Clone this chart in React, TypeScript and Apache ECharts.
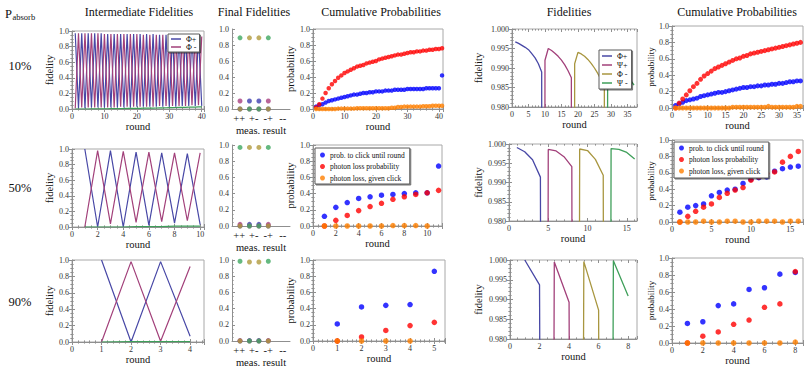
import React, { useEffect, useRef } from "react";
import * as echarts from "echarts";

// ---------------- texts ----------------
const columnTitles = ["Intermediate Fidelities", "Final Fidelities", "Cumulative Probabilities", "Fidelities", "Cumulative Probabilities"];
const rowLabels = ["10%", "50%", "90%"];
const measResults = ["++", "+-", "-+", "--"];
const intermediateLegend = ["Φ+", "Φ -"];
const bellLegend = ["Φ+", "Ψ+", "Φ -", "Ψ -"];
const probLegend = ["prob. to click until round", "photon loss probability", "photon loss, given click"];

// ---------------- intermediate fidelities (round 1..N) ----------------
const inter10PhiPlus = [0.97,0.01,0.97,0.01,0.97,0.02,0.97,0.02,0.97,0.02,0.96,0.02,0.96,0.02,0.96,0.02,0.96,0.02,0.96,0.03,0.96,0.03,0.96,0.03,0.96,0.03,0.95,0.03,0.95,0.03,0.95,0.03,0.95,0.04,0.95,0.04,0.95,0.04,0.95,0.04];
const inter10PhiMinus = [0.01,0.97,0.02,0.97,0.02,0.97,0.02,0.97,0.02,0.96,0.02,0.96,0.02,0.96,0.03,0.96,0.03,0.96,0.03,0.96,0.03,0.95,0.03,0.95,0.03,0.95,0.04,0.95,0.04,0.95,0.04,0.94,0.04,0.94,0.04,0.94,0.05,0.94,0.05,0.93];
const inter10Other = [0,0,0,0,0,0.001,0.001,0.002,0.002,0.003,0.003,0.004,0.004,0.005,0.005,0.006,0.007,0.007,0.008,0.009,0.009,0.010,0.011,0.012,0.012,0.013,0.014,0.015,0.016,0.017,0.018,0.019,0.020,0.021,0.022,0.023,0.024,0.025,0.027,0.028];
const inter50PhiPlus = [1.0,0.0,0.98,0.0,0.96,0.02,0.95,0.05,0.94,0.03];
const inter50PhiMinus = [0.0,0.98,0.04,0.97,0.06,0.96,0.07,0.95,0.08,0.95];
const inter50Other = [0,0,0,0,0.005,0.005,0.005,0.01,0.01,0.01];
const inter90PhiPlus = [1.0,0.0,0.98,0.07];
const inter90PhiMinus = [0.0,0.98,0.01,0.92];
const inter90Other = [0,0.005,0.005,0.005];

// ---------------- final fidelities (per measurement result) ----------------
const final10PhiPlus = [0.0,0.1,0.1,0.0];
const final10PsiPlus = [0.1,0.0,0.0,0.1];
const final10PhiMinus = [0.0,0.89,0.89,0.0];
const final10PsiMinus = [0.89,0.0,0.0,0.89];
const final50PhiPlus = [0.0,0.02,0.02,0.0];
const final50PsiPlus = [0.02,0.0,0.0,0.02];
const final50PhiMinus = [0.0,0.97,0.97,0.0];
const final50PsiMinus = [0.97,0.0,0.0,0.97];
const final90PhiPlus = [0.0,0.005,0.005,0.0];
const final90PsiPlus = [0.005,0.0,0.0,0.005];
const final90PhiMinus = [0.0,0.975,0.975,0.0];
const final90PsiMinus = [0.985,0.0,0.0,0.985];

// ---------------- cumulative probabilities, left (round 1..N) ----------------
const cumL10Click = [0.03,0.05,0.06,0.08,0.10,0.11,0.12,0.13,0.14,0.15,0.16,0.17,0.18,0.18,0.19,0.20,0.20,0.21,0.21,0.22,0.22,0.22,0.23,0.23,0.23,0.24,0.24,0.24,0.24,0.25,0.25,0.25,0.25,0.25,0.25,0.26,0.26,0.26,0.26,0.26,0.42];
const cumL10Loss = [0.02,0.06,0.13,0.20,0.26,0.31,0.35,0.39,0.42,0.45,0.47,0.49,0.51,0.53,0.54,0.55,0.57,0.58,0.59,0.60,0.62,0.63,0.64,0.65,0.66,0.67,0.68,0.68,0.69,0.70,0.71,0.71,0.72,0.72,0.73,0.73,0.74,0.74,0.75,0.75,0.76];
const cumL10Given = [0,0,0,0,0,0,0,0.005,0.005,0.005,0.005,0.005,0.005,0.01,0.01,0.01,0.01,0.01,0.01,0.01,0.01,0.01,0.01,0.01,0.015,0.015,0.025,0.025,0.03,0.03,0.03,0.03,0.03,0.03,0.035,0.035,0.035,0.04,0.04,0.04,0.04];
const cumL50Click = [0.12,0.23,0.29,0.34,0.36,0.38,0.39,0.40,0.41,0.41,0.74];
const cumL50Loss = [0.0,0.07,0.13,0.19,0.24,0.28,0.33,0.36,0.39,0.41,0.44];
const cumL50Given = [0,0,0,0,0,0,0.005,0.005,0.005,0.0];
const cumL90Click = [0.21,0.42,0.44,0.45,0.86];
const cumL90Loss = [0.0,0.05,0.13,0.19,0.23];
const cumL90Given = [0,0,0,0];

// ---------------- fidelities, right (value series with start round) ----------------
const fid10PhiPlus = [0.9967,0.9963,0.9958,0.9953,0.9947,0.9937,0.9926,0.9911,0.9890,0.0]; // rounds 1..10
const fid10PsiPlus = [0.0,0.9920,0.9950,0.9945,0.9938,0.9930,0.9920,0.9908,0.9893,0.9875,0.0]; // rounds 9..19
const fid10PhiMinus = [0.0,0.9911,0.9940,0.9936,0.9930,0.9922,0.9912,0.9900,0.9886,0.9870,0.9851,0.0]; // rounds 18..29
const fid10PsiMinus = [0.0,0.9908,0.9934,0.9925,0.9914,0.9903,0.9892,0.9880,0.9868,0.9856]; // rounds 28..37
const fid10Start = [1, 9, 18, 28];
const fid50PhiPlus = [0.9991,0.9980,0.9959,0.9914,0.0]; // 1..5
const fid50PsiPlus = [0.0,0.9986,0.9982,0.9967,0.9941,0.0]; // 4..9
const fid50PhiMinus = [0.0,0.9987,0.9983,0.9960,0.9919,0.0]; // 8..13
const fid50PsiMinus = [0.0,0.9988,0.9986,0.9978,0.9961]; // 12..16
const fid50Start = [1, 4, 8, 12];
const fid90PhiPlus = [1.0,0.9937,0.0]; // 1..3
const fid90PsiPlus = [0.0,0.9995,0.9893,0.0]; // 2..5
const fid90PhiMinus = [0.0,0.9996,0.9873,0.0]; // 4..7
const fid90PsiMinus = [0.0,0.9998,0.9909]; // 6..8
const fid90Start = [1, 2, 4, 6];

// ---------------- cumulative probabilities, right (round 1..N) ----------------
const cumR10Click = [0.03,0.05,0.07,0.09,0.10,0.11,0.12,0.14,0.15,0.16,0.17,0.18,0.19,0.19,0.20,0.21,0.22,0.23,0.24,0.25,0.25,0.26,0.26,0.27,0.27,0.28,0.28,0.29,0.29,0.30,0.30,0.31,0.32,0.32,0.33,0.33];
const cumR10Loss = [0.00,0.06,0.11,0.16,0.21,0.26,0.30,0.35,0.39,0.42,0.45,0.48,0.50,0.52,0.54,0.56,0.58,0.60,0.61,0.63,0.64,0.66,0.67,0.68,0.69,0.70,0.71,0.72,0.73,0.74,0.75,0.76,0.77,0.78,0.79,0.80];
const cumR10Given = [0,0,0,0,0,0,0,0,0,0,0,0,0,0,0,0,0.01,0.01,0.01,0.01,0.01,0.01,0.01,0.01,0.01,0.01,0.02,0.01,0.01,0.01,0.01,0.01,0.01,0.01,0.02,0.02];
const cumR50Click = [0.12,0.18,0.20,0.22,0.32,0.36,0.39,0.40,0.47,0.52,0.54,0.55,0.62,0.65,0.67,0.68];
const cumR50Loss = [0.00,0.07,0.13,0.18,0.22,0.30,0.35,0.39,0.42,0.51,0.55,0.59,0.61,0.73,0.80,0.86];
const cumR50Given = [0,0,0,0.01,0,0,0.01,0.01,0,0,0.01,0.01,0.01,0,0.01,0.01];
const cumR90Click = [0.23,0.25,0.44,0.46,0.63,0.65,0.81,0.83];
const cumR90Loss = [0.0,0.08,0.13,0.22,0.27,0.42,0.46,0.84];
const cumR90Given = [0,0,0,0,0,0,0,0.01];

// ---------------- styles & layout ----------------
const SERIF = '"Liberation Serif", "DejaVu Serif", serif';
const AXIS_COLOR = "#8f8f8f";
const FRAME_COLOR = "#a8a8a8";
const LABEL_COLOR = "#333";
const BELL_COLORS = ["#4848a6", "#a2407a", "#a8963f", "#3f9f5a"];
const DOT_COLORS = ["#3f3fb0", "#a83f80", "#b09a3c", "#3fa860"];
const PROB_COLORS = ["#0000ff", "#ff0000", "#ff8000"];

const titleX = [139, 254, 381, 569, 737];
const rowLabelY = [66, 188, 302];

const ROWS = [
  {
    inter: [72, 31, 132, 78], final: [232, 29, 58, 80], cumL: [313, 29, 130, 80], fid: [512, 29, 125, 78], cumR: [672, 26, 131, 82],
    interX: [40.7, 10, 5], cumLX: [41.3, 10, 5], fidX: [37.9, 5, 5], cumRX: [36.7, 5, 5], fidGap: 28, dot: 4.5,
  },
  {
    inter: [72, 149, 132, 78], final: [232, 145, 58, 81], cumL: [313, 145, 129, 81], fid: [509, 144, 128, 77], cumR: [672, 140, 131, 82],
    interX: [10.3, 2, 4], cumLX: [11.3, 2, 4], fidX: [16.3, 5, 5], cumRX: [16.6, 5, 5], fidGap: 25, dot: 5.5,
  },
  {
    inter: [72, 260, 132, 82], final: [232, 260, 58, 81], cumL: [313, 260, 132, 81], fid: [510, 260, 127, 79], cumR: [672, 258, 131, 85],
    interX: [4.47, 1, 5], cumLX: [5.44, 1, 5], fidX: [8.6, 2, 4], cumRX: [8.5, 2, 4], fidGap: 26, dot: 5.5,
  },
];

const interData = [
  [inter10PhiPlus, inter10PhiMinus, inter10Other],
  [inter50PhiPlus, inter50PhiMinus, inter50Other],
  [inter90PhiPlus, inter90PhiMinus, inter90Other],
];
const finalData = [
  [final10PhiPlus, final10PsiPlus, final10PhiMinus, final10PsiMinus],
  [final50PhiPlus, final50PsiPlus, final50PhiMinus, final50PsiMinus],
  [final90PhiPlus, final90PsiPlus, final90PhiMinus, final90PsiMinus],
];
const cumLData = [
  [cumL10Click, cumL10Loss, cumL10Given],
  [cumL50Click, cumL50Loss, cumL50Given],
  [cumL90Click, cumL90Loss, cumL90Given],
];
const fidData = [
  [fid10PhiPlus, fid10PsiPlus, fid10PhiMinus, fid10PsiMinus],
  [fid50PhiPlus, fid50PsiPlus, fid50PhiMinus, fid50PsiMinus],
  [fid90PhiPlus, fid90PsiPlus, fid90PhiMinus, fid90PsiMinus],
];
const fidStarts = [fid10Start, fid50Start, fid90Start];
const cumRData = [
  [cumR10Click, cumR10Loss, cumR10Given],
  [cumR50Click, cumR50Loss, cumR50Given],
  [cumR90Click, cumR90Loss, cumR90Given],
];

function tickFmt(interval: number, digits: number) {
  return (v: number) => {
    const k = v / interval;
    if (Math.abs(k - Math.round(k)) > 1e-6) return "";
    return v.toFixed(digits);
  };
}

const byRound = (vals: number[], start: number) => vals.map((v, i) => [start + i, v]);

function buildOption() {
  const grid: any[] = [];
  const xAxis: any[] = [];
  const yAxis: any[] = [];
  const series: any[] = [];
  const legend: any[] = [];
  const labels: Record<string, string> = {};
  const mirrorsX: any[] = [];
  const mirrorsY: any[] = [];

  const nameStyle = (size: number) => ({ fontFamily: SERIF, fontSize: size, color: "#111" });

  const addGrid = (r: number[], frame: boolean) => {
    grid.push({ left: r[0], top: r[1], width: r[2], height: r[3], show: frame, borderColor: FRAME_COLOR, borderWidth: 1, backgroundColor: "transparent" });
    return grid.length - 1;
  };

  const valueAxis = (gridIndex: number, min: number, max: number, interval: number, minorSplit: number, digits: number, extra: any) => ({
    type: "value", gridIndex, min, max, interval,
    axisLine: { show: true, onZero: false, lineStyle: { color: AXIS_COLOR, width: 1 } },
    axisTick: { show: true, inside: true, length: 3, lineStyle: { color: AXIS_COLOR } },
    minorTick: { show: true, splitNumber: minorSplit, length: 1.6, lineStyle: { color: AXIS_COLOR } },
    splitLine: { show: false },
    minorSplitLine: { show: false },
    axisLabel: { fontFamily: SERIF, fontSize: 8, color: LABEL_COLOR, margin: 3, formatter: tickFmt(interval, digits), hideOverlap: false },
    nameTextStyle: nameStyle(10.5),
    ...extra,
  });

  // frame ticks on the opposite sides (top / right), like a Mathematica frame
  const mirror = (g: number, xCfg: number[], yCfg: number[]) => {
    mirrorsX.push({ ...valueAxis(g, 0, xCfg[0], xCfg[1], xCfg[2], 0, {}), position: "top", axisLabel: { show: false }, axisLine: { show: false }, silent: true });
    mirrorsY.push({ ...valueAxis(g, yCfg[0], yCfg[1], yCfg[2], yCfg[3], 1, {}), position: "right", axisLabel: { show: false }, axisLine: { show: false }, silent: true });
  };

  const roundAxis = (g: number, cfg: number[]) =>
    valueAxis(g, 0, cfg[0], cfg[1], cfg[2], 0, { name: "round", nameLocation: "middle", nameGap: 9, position: "bottom" });

  const line = (name: string, label: string, xi: number, yi: number, data: number[][], color: string, width: number) => {
    labels[name] = label;
    series.push({
      type: "line", name, xAxisIndex: xi, yAxisIndex: yi, data, showSymbol: false, symbol: "none",
      lineStyle: { color, width }, itemStyle: { color }, clip: true, silent: true,
    });
  };
  const dots = (name: string, label: string, xi: number, yi: number, data: number[][], color: string, size: number) => {
    labels[name] = label;
    series.push({
      type: "scatter", name, xAxisIndex: xi, yAxisIndex: yi, data, symbolSize: size,
      itemStyle: { color }, clip: false, silent: true,
    });
  };

  ROWS.forEach((row, r) => {
    // ---- intermediate fidelities ----
    const gI = addGrid(row.inter, true);
    xAxis.push(roundAxis(gI, row.interX));
    yAxis.push(valueAxis(gI, 0, 1, 0.2, 4, 1, { name: "fidelity", nameLocation: "middle", nameGap: 17, nameRotate: 90, position: "left" }));
    {
      const xi = xAxis.length - 1, yi = yAxis.length - 1;
      const colors = [BELL_COLORS[0], BELL_COLORS[1], BELL_COLORS[3]];
      interData[r].forEach((vals, k) => {
        line(`r${r}-inter-${k}`, intermediateLegend[k] || "", xi, yi, byRound(vals, 1), colors[k], 1.2);
      });
    }
    mirror(gI, row.interX, [0, 1, 0.2, 4]);

    // ---- final fidelities ----
    const gF = addGrid(row.final, false);
    xAxis.push({ type: "value", gridIndex: gF, min: 0.15, max: 6.3, show: false, position: "bottom" });
    const xiF = xAxis.length - 1;
    xAxis.push({
      type: "category", gridIndex: gF, data: measResults, position: "bottom", boundaryGap: true,
      axisLine: { show: true, lineStyle: { color: AXIS_COLOR } },
      axisTick: { show: false },
      axisLabel: { interval: 0, fontFamily: SERIF, fontSize: 10.5, color: "#111", margin: 4 },
      name: "meas. result", nameLocation: "middle", nameGap: 15, nameTextStyle: nameStyle(10.5),
    });
    yAxis.push(valueAxis(gF, 0, 1, 0.2, 4, 1, { position: "left" }));
    {
      const yi = yAxis.length - 1;
      finalData[r].forEach((vals, k) => {
        dots(`r${r}-final-${k}`, bellLegend[k], xiF, yi, vals.map((v, i) => [i + 1, v]), DOT_COLORS[k], 5);
      });
    }

    // ---- cumulative probabilities (left) ----
    const gC = addGrid(row.cumL, true);
    xAxis.push(roundAxis(gC, row.cumLX));
    yAxis.push(valueAxis(gC, 0, 1, 0.2, 4, 1, { name: "probability", nameLocation: "middle", nameGap: 14, nameRotate: 90, position: "left" }));
    {
      const xi = xAxis.length - 1, yi = yAxis.length - 1;
      cumLData[r].forEach((vals, k) => {
        dots(`r${r}-cumL-${k}`, probLegend[k], xi, yi, byRound(vals, 1), PROB_COLORS[k], row.dot);
      });
    }
    mirror(gC, row.cumLX, [0, 1, 0.2, 4]);

    // ---- fidelities (right) ----
    const gD = addGrid(row.fid, true);
    xAxis.push(roundAxis(gD, row.fidX));
    yAxis.push(valueAxis(gD, 0.98, 1.0, 0.005, 5, 3, { name: "fidelity", nameLocation: "middle", nameGap: row.fidGap, nameRotate: 90, position: "left" }));
    {
      const xi = xAxis.length - 1, yi = yAxis.length - 1;
      fidData[r].forEach((vals, k) => {
        line(`r${r}-fid-${k}`, bellLegend[k], xi, yi, byRound(vals, fidStarts[r][k]), BELL_COLORS[k], 1.3);
      });
    }
    mirror(gD, row.fidX, [0.98, 1.0, 0.005, 5]);

    // ---- cumulative probabilities (right) ----
    const gR = addGrid(row.cumR, true);
    xAxis.push(roundAxis(gR, row.cumRX));
    yAxis.push(valueAxis(gR, 0, 1, 0.2, 4, 1, { name: "probability", nameLocation: "middle", nameGap: 14, nameRotate: 90, nameTextStyle: nameStyle(9), position: "left" }));
    {
      const xi = xAxis.length - 1, yi = yAxis.length - 1;
      cumRData[r].forEach((vals, k) => {
        dots(`r${r}-cumR-${k}`, probLegend[k], xi, yi, byRound(vals, 1), PROB_COLORS[k], r === 0 ? 5 : 5.5);
      });
    }
    mirror(gR, row.cumRX, [0, 1, 0.2, 4]);
  });

  const boxStyle = {
    orient: "vertical", backgroundColor: "#fff", borderColor: "#5a5a5a", borderWidth: 1,
    shadowColor: "rgba(0,0,0,0.55)", shadowBlur: 1, shadowOffsetX: 1, shadowOffsetY: 1,
    selectedMode: false, formatter: (n: string) => labels[n],
  };
  legend.push({
    ...boxStyle, data: ["r0-inter-0", "r0-inter-1"], left: 168, top: 34, icon: "rect", itemWidth: 10, itemHeight: 1.5,
    itemGap: 0, padding: [1, 3, 1, 3], textStyle: { fontFamily: SERIF, fontSize: 8, color: "#111" },
  });
  legend.push({
    ...boxStyle, data: ["r0-fid-0", "r0-fid-1", "r0-fid-2", "r0-fid-3"], left: 599, top: 50, icon: "rect", itemWidth: 10, itemHeight: 1.5,
    itemGap: 1, padding: [2, 4, 2, 3], textStyle: { fontFamily: SERIF, fontSize: 8, color: "#111" },
  });
  legend.push({
    ...boxStyle, data: ["r1-cumL-0", "r1-cumL-1", "r1-cumL-2"], left: 315, top: 148, icon: "circle", itemWidth: 5, itemHeight: 5,
    itemGap: 3.5, padding: [3, 5, 2, 5], textStyle: { fontFamily: SERIF, fontSize: 7.5, color: "#111" },
  });
  legend.push({
    ...boxStyle, data: ["r1-cumR-0", "r1-cumR-1", "r1-cumR-2"], left: 674, top: 142, icon: "circle", itemWidth: 5, itemHeight: 5,
    itemGap: 3.5, padding: [2, 5, 3, 5], textStyle: { fontFamily: SERIF, fontSize: 7.5, color: "#111" },
  });

  const graphic: any[] = [];
  columnTitles.forEach((t, i) => {
    graphic.push({ type: "text", x: titleX[i], y: 12, style: { text: t, fontFamily: SERIF, fontSize: 12, fill: "#111", align: "center", verticalAlign: "middle" } });
  });
  rowLabels.forEach((t, i) => {
    graphic.push({ type: "text", x: 20, y: rowLabelY[i], style: { text: t, fontFamily: SERIF, fontSize: 12.5, fill: "#111", align: "center", verticalAlign: "middle" } });
  });
  graphic.push({ type: "text", x: 5, y: 14, style: { text: "P", fontFamily: SERIF, fontSize: 12.5, fill: "#111", align: "left", verticalAlign: "middle" } });
  graphic.push({ type: "text", x: 12.5, y: 17, style: { text: "absorb", fontFamily: SERIF, fontSize: 8.5, fill: "#111", align: "left", verticalAlign: "middle" } });

  return {
    animation: false,
    backgroundColor: "#fff",
    textStyle: { fontFamily: SERIF },
    grid,
    xAxis: [...xAxis, ...mirrorsX],
    yAxis: [...yAxis, ...mirrorsY],
    series, legend, graphic,
  };
}

export default function App() {
  const ref = useRef<HTMLDivElement>(null);
  useEffect(() => {
    if (!ref.current) return;
    const chart = echarts.init(ref.current, null, { renderer: "svg" });
    chart.setOption(buildOption() as any);
    return () => chart.dispose();
  }, []);
  return <div ref={ref} style={{ position: "fixed", left: 0, top: 0, width: 810, height: 370, background: "#fff" }} />;
}
